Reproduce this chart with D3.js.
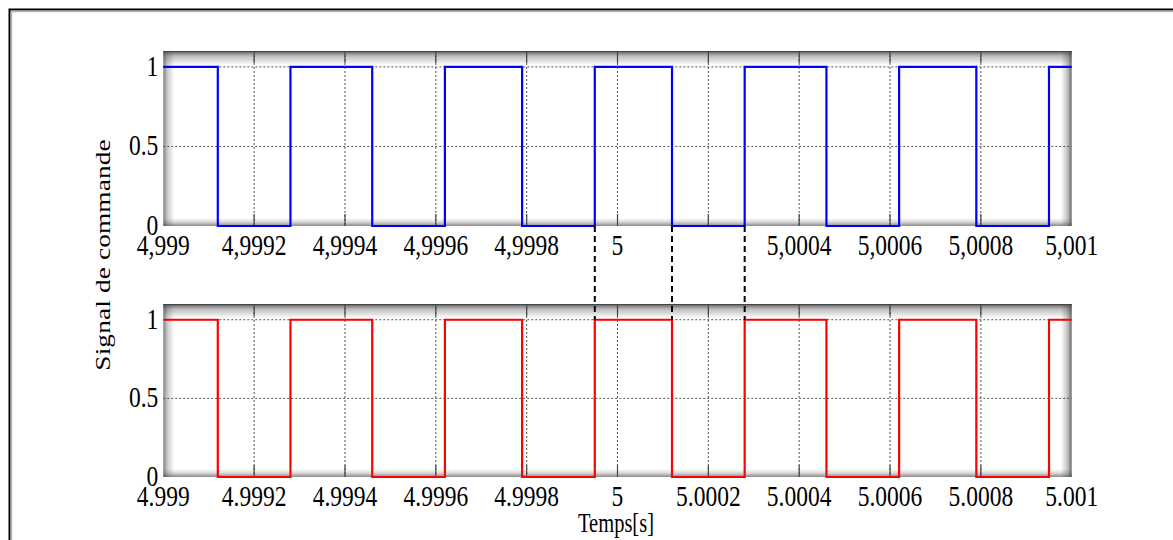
<!DOCTYPE html>
<html>
<head>
<meta charset="utf-8">
<script src="https://cdn.jsdelivr.net/npm/d3@7"></script>
<style>
  html, body { margin: 0; padding: 0; background: #fff; }
  svg { display: block; }
  text { font-family: "Liberation Serif", "Times New Roman", serif; fill: #000; }
</style>
</head>
<body>
<svg id="chart" width="1173" height="540"></svg>
<script>
// Time axis ticks (s)
const xTicks = [4.999, 4.9992, 4.9994, 4.9996, 4.9998, 5, 5.0002, 5.0004, 5.0006, 5.0008, 5.001];
const topTickLabels = ["4,999", "4,9992", "4,9994", "4,9996", "4,9998", "5", "", "5,0004", "5,0006", "5,0008", "5,001"];
const bottomTickLabels = ["4.999", "4.9992", "4.9994", "4.9996", "4.9998", "5", "5.0002", "5.0004", "5.0006", "5.0008", "5.001"];
const yTicks = [0, 0.5, 1];
const yTickLabels = ["0", "0.5", "1"];

// Switching instants of the command signals (s) and the level held after each one
const blueTimes  = [4.999, 4.99912, 4.99928, 4.99946, 4.99962, 4.99979, 4.99995, 5.00012, 5.00028, 5.00046, 5.00062, 5.00079, 5.00095, 5.001];
const blueValues = [1, 0, 1, 0, 1, 0, 1, 0, 1, 0, 1, 0, 1, 1];
const redTimes   = [4.999, 4.99912, 4.99928, 4.99946, 4.99962, 4.99979, 4.99995, 5.00012, 5.00028, 5.00046, 5.00062, 5.00079, 5.00095, 5.001];
const redValues  = [1, 0, 1, 0, 1, 0, 1, 0, 1, 0, 1, 0, 1, 1];

// Instants linked between the two panels by dashed guides
const linkTimes = [4.99995, 5.00012, 5.00028];

const svg = d3.select("#chart");

const x = d3.scaleLinear().domain([4.999, 5.001]).range([163.3, 1071.7]);
const panels = [
  { top: 51,  bottom: 226, times: blueTimes, values: blueValues, color: "#0000ff", labels: topTickLabels },
  { top: 304, bottom: 477, times: redTimes,  values: redValues,  color: "#ff0000", labels: bottomTickLabels }
];

const defs = svg.append("defs");
function shade(id, x1, y1, x2, y2, stops) {
  const g = defs.append("linearGradient").attr("id", id)
    .attr("x1", x1).attr("y1", y1).attr("x2", x2).attr("y2", y2);
  stops.forEach(s => g.append("stop").attr("offset", s[0]).attr("stop-color", "#3c3c3c").attr("stop-opacity", s[1]));
}
shade("shTop", 0, 0, 0, 1, [[0, 0.85], [0.35, 0.35], [1, 0]]);
shade("shBot", 0, 1, 0, 0, [[0, 0.6], [0.5, 0.2], [1, 0]]);
shade("shLeft", 0, 0, 1, 0, [[0, 0.65], [0.4, 0.25], [1, 0]]);
shade("shRight", 1, 0, 0, 0, [[0, 0.75], [0.4, 0.3], [1, 0]]);

// Outer figure frame
svg.append("path").attr("d", "M9.5,1173 V9.5 H1173").attr("fill", "none").attr("stroke", "#000").attr("stroke-width", 2);
svg.append("path").attr("d", "M11.5,1173 V11.5 H1173").attr("fill", "none").attr("stroke", "#b4b4b4").attr("stroke-width", 1.5);

function stretchedText(g, px, py, str, size, sy, anchor) {
  g.append("g").attr("transform", `translate(${px},${py}) scale(1,${sy})`)
    .append("text")
    .attr("font-size", size)
    .attr("text-anchor", anchor)
    .text(str);
}

panels.forEach(p => {
  const y = d3.scaleLinear().domain([0, 1.1]).range([p.bottom, p.top]);
  const [x0, x1] = x.range();
  const g = svg.append("g");

  // Plot area with bevelled shading
  g.append("rect").attr("x", x0).attr("y", p.top).attr("width", x1 - x0).attr("height", p.bottom - p.top).attr("fill", "#fff");
  g.append("rect").attr("x", x0).attr("y", p.top).attr("width", x1 - x0).attr("height", 14).attr("fill", "url(#shTop)");
  g.append("rect").attr("x", x0).attr("y", p.bottom - 8).attr("width", x1 - x0).attr("height", 8).attr("fill", "url(#shBot)");
  g.append("rect").attr("x", x0).attr("y", p.top).attr("width", 11).attr("height", p.bottom - p.top).attr("fill", "url(#shLeft)");
  g.append("rect").attr("x", x1 - 11).attr("y", p.top).attr("width", 11).attr("height", p.bottom - p.top).attr("fill", "url(#shRight)");
  g.append("line").attr("x1", x0).attr("x2", x1).attr("y1", p.top + 0.5).attr("y2", p.top + 0.5).attr("stroke", "#444").attr("stroke-width", 1.2);

  // Dotted grid
  g.selectAll(".vg").data(xTicks.slice(1, -1)).enter().append("line")
    .attr("x1", d => x(d)).attr("x2", d => x(d)).attr("y1", p.top).attr("y2", p.bottom)
    .attr("stroke", "#555").attr("stroke-width", 1).attr("stroke-dasharray", "2,2");
  g.selectAll(".hg").data(yTicks.slice(1)).enter().append("line")
    .attr("x1", x0).attr("x2", x1).attr("y1", d => y(d)).attr("y2", d => y(d))
    .attr("stroke", "#555").attr("stroke-width", 1).attr("stroke-dasharray", "2,2");

  // Inward tick marks
  g.selectAll(".tt").data(xTicks.slice(1, -1)).enter().append("line")
    .attr("x1", d => x(d)).attr("x2", d => x(d)).attr("y1", p.top).attr("y2", p.top + 12)
    .attr("stroke", "#444").attr("stroke-width", 1.2);
  g.selectAll(".tb").data(xTicks.slice(1, -1)).enter().append("line")
    .attr("x1", d => x(d)).attr("x2", d => x(d)).attr("y1", p.bottom - 12).attr("y2", p.bottom)
    .attr("stroke", "#444").attr("stroke-width", 1.2);

  // Signal as a step trace
  const pts = p.times.map((t, i) => [t, p.values[i]]);
  const line = d3.line().x(d => x(d[0])).y(d => y(d[1])).curve(d3.curveStepAfter);
  g.append("path").attr("d", line(pts)).attr("fill", "none")
    .attr("stroke", p.color).attr("stroke-width", 2.2).attr("stroke-linejoin", "miter");

  // Tick labels
  xTicks.forEach((t, i) => {
    if (p.labels[i]) stretchedText(g, x(t), p.bottom + 29, p.labels[i], 23.5, 1.27, "middle");
  });
  yTicks.forEach((v, i) => {
    stretchedText(g, x0 - 5, y(v) + 9, yTickLabels[i], 23.5, 1.27, "end");
  });

  p.y = y;
});

// Dashed guides between the panels
const yA = panels[0].y, yB = panels[1].y;
svg.selectAll(".link").data(linkTimes).enter().append("line")
  .attr("x1", d => x(d)).attr("x2", d => x(d))
  .attr("y1", yA(0)).attr("y2", yB(1))
  .attr("stroke", "#000").attr("stroke-width", 2).attr("stroke-dasharray", "6,4");

// Axis titles
svg.append("g").attr("transform", "translate(616,532) scale(1,1.3)")
  .append("text").attr("font-size", 20.5).attr("text-anchor", "middle").text("Temps[s]");
svg.append("g").attr("transform", "translate(110,255) rotate(-90) scale(1.3,1)")
  .append("text").attr("font-size", 21).attr("text-anchor", "middle")
  .attr("textLength", 178).attr("lengthAdjust", "spacing").text("Signal de commande");
</script>
</body>
</html>
